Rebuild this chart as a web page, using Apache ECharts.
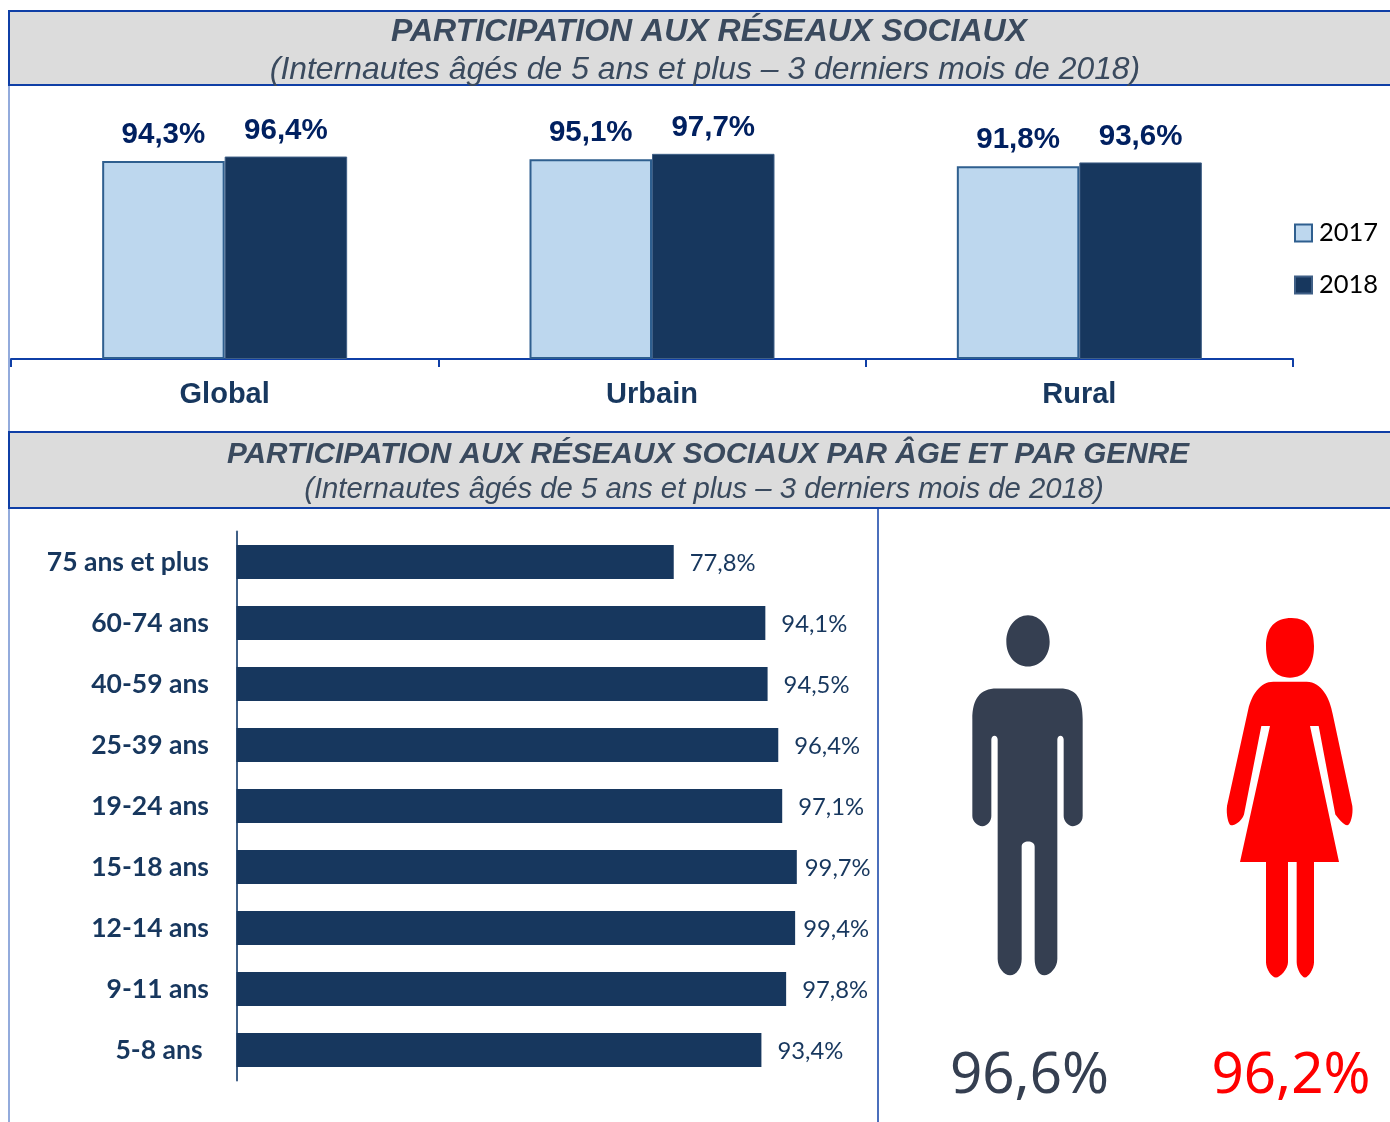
<!DOCTYPE html>
<html>
<head>
<meta charset="utf-8">
<script src="https://cdn.jsdelivr.net/npm/echarts@6/dist/echarts.min.js"></script>
<style>
  html, body { margin: 0; padding: 0; background: #fff; }
  #chart { width: 1390px; height: 1122px; }
</style>
</head>
<body>
<div id="chart"></div>
<script>
const zones = ["Global", "Urbain", "Rural"];
const values2017 = [94.3, 95.1, 91.8];
const values2018 = [96.4, 97.7, 93.6];

const ages = ["75 ans et plus", "60-74 ans", "40-59 ans", "25-39 ans", "19-24 ans", "15-18 ans", "12-14 ans", "9-11 ans", "5-8 ans"];
const ageValues = [77.8, 94.1, 94.5, 96.4, 97.1, 99.7, 99.4, 97.8, 93.4];

const menValue = "96,6%";
const womenValue = "96,2%";

const titleTop = "PARTICIPATION AUX RÉSEAUX SOCIAUX";
const subTop = "(Internautes âgés de 5 ans et plus – 3 derniers mois de 2018)";
const titleBottom = "PARTICIPATION AUX RÉSEAUX SOCIAUX PAR ÂGE ET PAR GENRE";
const subBottom = "(Internautes âgés de 5 ans et plus – 3 derniers mois de 2018)";

const NAVY = "#17375e";
const LIGHT = "#bdd7ee";
const RULE = "#0f3fa6";
const GREY = "#353f51";
const SANS = "Liberation Sans";

const fmt = (v) => String(v).replace(".", ",") + "%";

// pictograms, traced at 3x
const manPath = "M290 290H480C530 290 548 320 548 380V665C548 685 530 695 518 695C505 695 491 680 491 665V440C491 425 472 425 472 440V1085C472 1110 450 1133 433 1133C415 1133 404 1110 404 1085V755C404 735 365 735 365 755V1085C365 1110 350 1133 330 1133C312 1133 293 1110 293 1085V440C293 425 274 425 274 440V665C274 680 262 695 247 695C232 695 217 680 217 665V380C217 320 240 290 290 290Z"
  + "M384 74C420 74 449 108 449 152C449 195 420 225 384 225C348 225 319 195 319 152C319 108 348 74 384 74Z";
const womanPath = "M1120 270H1220C1265 270 1290 320 1298 365L1357 635C1360 660 1352 690 1342 692C1330 690 1315 672 1306 660L1256 400H1230L1317 800H1242V1095C1242 1115 1225 1140 1215 1140C1205 1140 1190 1115 1190 1095V800H1164V1095C1164 1115 1140 1140 1128 1140C1115 1140 1098 1115 1098 1095V800H1020L1110 400H1084L1032 660C1025 680 1005 692 993 692C985 690 978 660 981 635L1045 350C1055 310 1080 270 1120 270Z"
  + "M1175 82C1225 82 1242 115 1242 165C1242 225 1215 258 1170 258C1125 258 1098 225 1098 165C1098 110 1125 82 1175 82Z";

// the graphic component has no plain "path" type, so register these two
echarts.graphic.registerShape("manIcon", echarts.graphic.extendPath(manPath, {}));
echarts.graphic.registerShape("womanIcon", echarts.graphic.extendPath(womanPath, {}));

const chart = echarts.init(document.getElementById("chart"));

const panel = (y, h) => ({
  type: "rect",
  shape: { x: 9, y: y, width: 1390, height: h },
  style: { fill: "#dcdcdc", stroke: RULE, lineWidth: 2 }
});
const rule = (x1, y1, x2, y2, color) => ({
  type: "line",
  shape: { x1: x1, y1: y1, x2: x2, y2: y2 },
  style: { stroke: color, lineWidth: 1.5 }
});
const heading = (text, left, top, size, weight) => ({
  text: text,
  left: left,
  top: top,
  padding: 0,
  textAlign: "center",
  textStyle: { fontFamily: SANS, fontStyle: "italic", fontWeight: weight, fontSize: size, color: "#3a4a5e" }
});

chart.setOption({
  animation: false,
  title: [
    heading(titleTop, 709, 16, 32, "bold"),
    heading(subTop, 705, 54, 31.9, "normal"),
    heading(titleBottom, 708, 440, 29.75, "bold"),
    heading(subBottom, 704, 475, 29.3, "normal")
  ],
  legend: {
    orient: "vertical",
    left: 1289,
    top: 215,
    icon: "rect",
    itemWidth: 17,
    itemHeight: 17,
    itemGap: 26,
    textStyle: { fontFamily: "Lato", fontSize: 25.5, color: "#000", padding: [0, 0, 0, 2] },
    data: ["2017", "2018"]
  },
  grid: [
    { left: 11, top: 149, width: 1282, height: 210 },
    { left: 236.5, top: 531.5, width: 562, height: 549 }
  ],
  xAxis: [
    {
      type: "category",
      gridIndex: 0,
      data: zones,
      axisLine: { lineStyle: { color: RULE, width: 2 } },
      axisTick: { show: true, length: 8, lineStyle: { color: RULE, width: 2 } },
      axisLabel: { margin: 21, fontFamily: SANS, fontWeight: "bold", fontSize: 29, color: NAVY }
    },
    { type: "value", gridIndex: 1, min: 0, max: 100, show: false }
  ],
  yAxis: [
    { type: "value", gridIndex: 0, min: 0, max: 100, show: false },
    {
      type: "category",
      gridIndex: 1,
      inverse: true,
      data: ages,
      axisLine: { lineStyle: { color: "#3f5f86", width: 2 } },
      axisTick: { show: false },
      axisLabel: {
        margin: 27.5,
        fontFamily: "Lato",
        fontWeight: "bold",
        fontSize: 26.5,
        color: NAVY,
        padding: [2, 0, 0, 0],
        formatter: (v) => (v === "5-8 ans" ? v + "\u00a0" : v)
      }
    }
  ],
  series: [
    {
      name: "2017",
      type: "bar",
      xAxisIndex: 0,
      yAxisIndex: 0,
      barWidth: 122.5,
      barGap: 0,
      data: values2017,
      itemStyle: { color: LIGHT, borderColor: "#2f5f8f", borderWidth: 2 },
      label: { show: true, position: "top", distance: 11, formatter: (p) => fmt(p.value), fontFamily: SANS, fontWeight: "bold", fontSize: 29.5, color: "#002060" }
    },
    {
      name: "2018",
      type: "bar",
      xAxisIndex: 0,
      yAxisIndex: 0,
      barWidth: 122.5,
      barGap: 0,
      data: values2018,
      itemStyle: { color: NAVY, borderColor: "#3f5f86", borderWidth: 1 },
      label: { show: true, position: "top", distance: 11, formatter: (p) => fmt(p.value), fontFamily: SANS, fontWeight: "bold", fontSize: 29.5, color: "#002060" }
    },
    {
      name: "Âge",
      type: "bar",
      xAxisIndex: 1,
      yAxisIndex: 1,
      barWidth: 34,
      // the two longest bars have their label pulled in so it stays left of the divider
      data: ageValues.map((v) => (v > 99 ? { value: v, label: { distance: 8 } } : v)),
      itemStyle: { color: NAVY },
      label: { show: true, position: "right", distance: 16, offset: [0, 1.5], formatter: (p) => fmt(p.value), fontFamily: "Lato", fontSize: 23.8, color: NAVY }
    }
  ],
  graphic: [
    rule(9, 85, 9, 1122, "#6f8fd0"),
    rule(878, 508, 878, 1122, RULE),
    panel(11, 74),
    panel(432, 76),
    { type: "manIcon", x: 900, y: 590, scaleX: 1 / 3, scaleY: 0.34, style: { fill: GREY } },
    { type: "womanIcon", x: 900, y: 590, scaleX: 1 / 3, scaleY: 0.34, style: { fill: "#ff0000" } },
    { type: "text", x: 1029.5, y: 1077, style: { text: menValue, fill: GREY, font: "56.5px 'Noto Sans'", align: "center", verticalAlign: "middle" } },
    { type: "text", x: 1291, y: 1077, style: { text: womenValue, fill: "#ff0000", font: "56.5px 'Noto Sans'", align: "center", verticalAlign: "middle" } }
  ]
});
</script>
</body>
</html>
